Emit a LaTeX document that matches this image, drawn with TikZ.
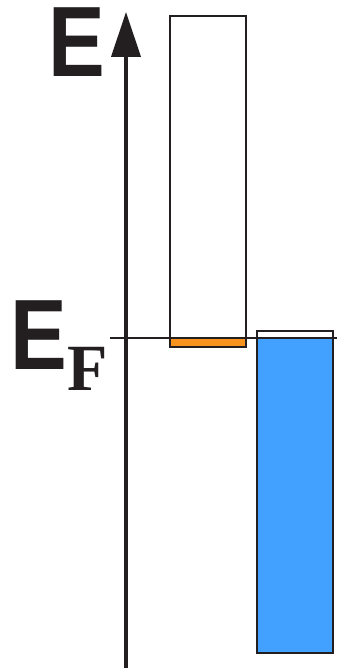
\documentclass[tikz,border=0pt]{standalone}
\usepackage{fontspec}
\usepackage{graphicx}
\usepackage{tikz}
\usetikzlibrary{arrows.meta,positioning,backgrounds,calc}
\newfontfamily\labelsans{Liberation Sans}
\newfontfamily\labelserif{Liberation Serif}
\definecolor{inkdark}{HTML}{231F20}
\definecolor{bandorange}{HTML}{F7931E}
\definecolor{bandblue}{HTML}{42A0FF}
\tikzset{
    band/.style={rectangle, draw=inkdark, line width=2pt, minimum width=76pt, inner sep=0},
    axis/.style={draw=inkdark, line width=4pt, -{Triangle[length=45pt, width=29pt]}},
    fermi/.style={draw=inkdark, line width=1.4pt},
    biglabel/.style={inner sep=0, anchor=base west, text height=72pt, text depth=0pt, text=inkdark, font=\labelsans\bfseries\fontsize{100}{100}\selectfont},
    sublabel/.style={inner sep=0, anchor=base west, text height=44pt, text depth=0pt, text=inkdark, font=\labelserif\bfseries\fontsize{66}{66}\selectfont},
}
\begin{document}
\begin{tikzpicture}[x=1pt, y=1pt]
    \useasboundingbox (0,0) rectangle (337,670);

    % axis and labels
    \coordinate (axisfoot) at (126,2);
    \coordinate (axistip) at (126,658);
    \draw[axis] (axisfoot) -- (axistip);
    \node[biglabel] (elabel) at (48,593) {\scalebox{0.85}[1]{E}};
    \node[biglabel] (eflabel) at (10,300) {\scalebox{0.85}[1]{E}};
    \node[sublabel] (fsub) at (67,279) {F};

    % bands
    \node[band, minimum height=331pt] (upper) at (208,488.5) {};
    \node[band, minimum height=322pt] (lower) at (295,178) {};

    \begin{scope}[on background layer]
        \fill[bandorange] (upper.south west) rectangle ($(upper.south east)+(0,9)$);
        \fill[bandblue] (lower.south west) rectangle ($(lower.south east)+(0,315)$);
    \end{scope}

    % Fermi level
    \coordinate (fermileft) at (110,332);
    \coordinate (fermiright) at (337,332);
    \draw[fermi] (fermileft) -- (fermiright);
\end{tikzpicture}
\end{document}
